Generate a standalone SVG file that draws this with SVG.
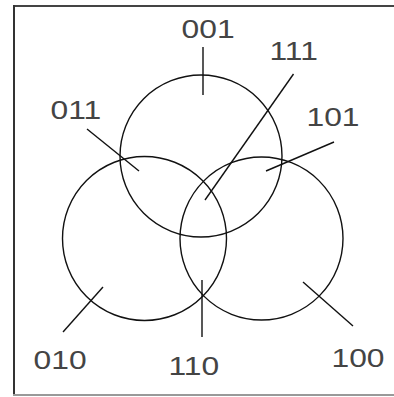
<svg xmlns="http://www.w3.org/2000/svg" width="394" height="397" viewBox="0 0 394 397">
<style>
.c{fill:none;stroke:#111;stroke-width:1.4}
.l{stroke:#111;stroke-width:1.4;fill:none}
.t{font-family:"Liberation Sans",Arial,sans-serif;font-size:26.5px;fill:#444}
</style>
<rect x="0" y="0" width="394" height="397" fill="#fff"/>
<g id="frame">
<line x1="14" y1="6" x2="394" y2="6" stroke="#444" stroke-width="2"/>
<line x1="14" y1="5" x2="14" y2="395" stroke="#333" stroke-width="2"/>
<line x1="13" y1="395" x2="394" y2="395" stroke="#999" stroke-width="2"/>
</g>
<g id="circle-top"><circle class="c" cx="201" cy="156" r="81"/></g>
<g id="circle-left"><circle class="c" cx="144.5" cy="238.5" r="82"/></g>
<g id="circle-right"><circle class="c" cx="261.5" cy="238.5" r="81.5"/></g>
<g id="connectors">
<line class="l" x1="203" y1="47" x2="203" y2="95"/>
<line class="l" x1="293.5" y1="74" x2="205" y2="200"/>
<line class="l" x1="87" y1="129" x2="139" y2="171"/>
<line class="l" x1="334" y1="142" x2="266" y2="171"/>
<line class="l" x1="63" y1="332" x2="103" y2="287" stroke="#555" stroke-width="1.1"/>
<line class="l" x1="202" y1="280" x2="202" y2="337" stroke-width="2"/>
<line class="l" x1="303" y1="282" x2="353" y2="326" stroke="#555" stroke-width="1.1"/>
</g>
<g id="label-001"><text class="t" transform="translate(181.6,38) scale(1.2,1)">001</text></g>
<g id="label-111"><text class="t" transform="translate(269.5,60) scale(1.2,1)">111</text></g>
<g id="label-011"><text class="t" transform="translate(50.6,119) scale(1.2,1)">011</text></g>
<g id="label-101"><text class="t" transform="translate(306.5,126) scale(1.2,1)">101</text></g>
<g id="label-010"><text class="t" transform="translate(33.6,369) scale(1.2,1)">010</text></g>
<g id="label-110"><text class="t" transform="translate(168.5,375) scale(1.2,1)">110</text></g>
<g id="label-100"><text class="t" transform="translate(331.5,367) scale(1.2,1)">100</text></g>
</svg>
